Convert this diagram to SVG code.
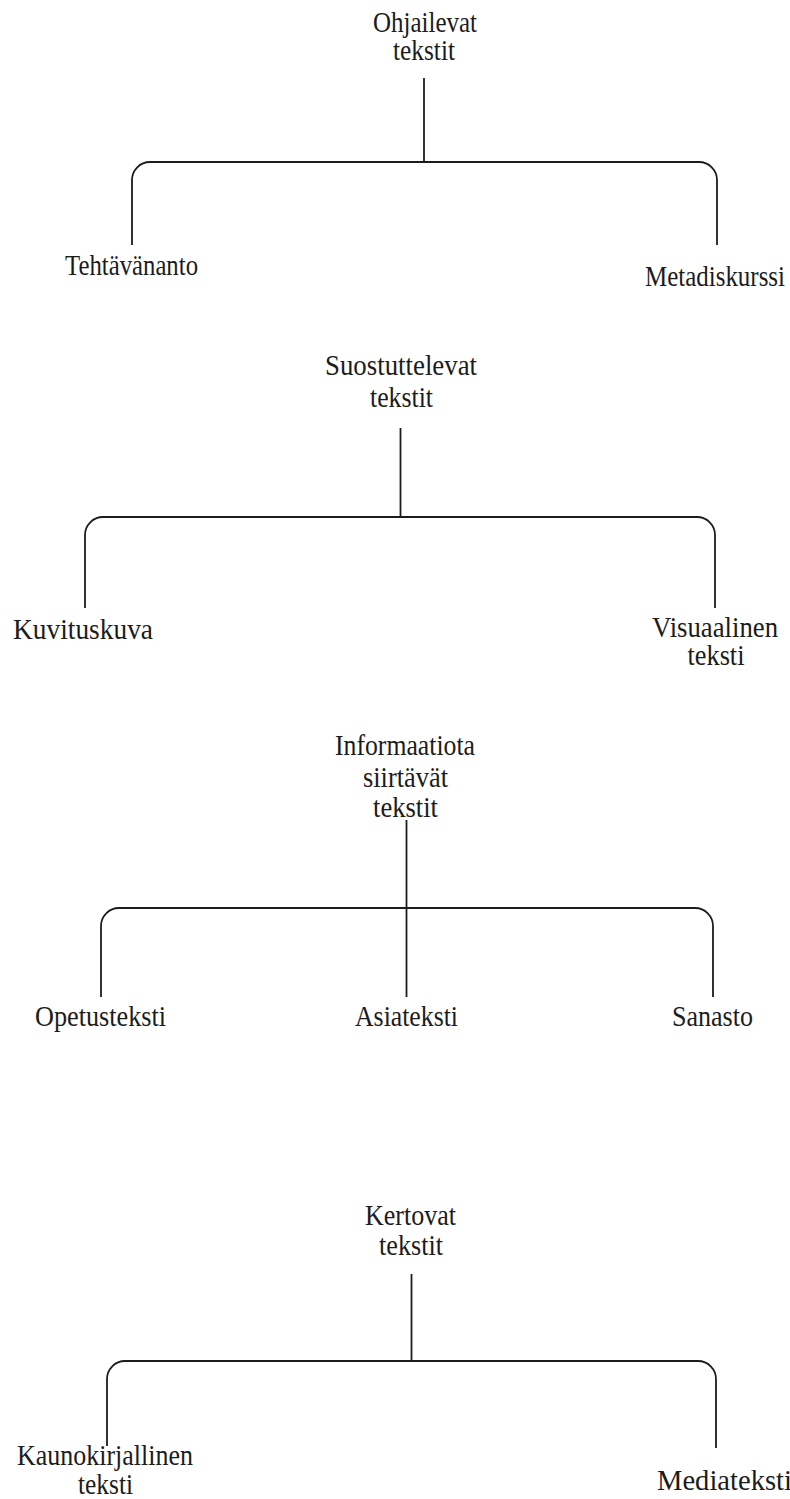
<svg xmlns="http://www.w3.org/2000/svg" width="790" height="1499" viewBox="0 0 790 1499">
<style>
.t{font-family:"Liberation Serif","Times New Roman",serif;font-size:26px;fill:#1c1c1c;text-anchor:middle}
.s{text-anchor:start}
.c{fill:none;stroke:#1c1c1c;stroke-width:1.8}
</style>
<rect width="790" height="1499" fill="#ffffff"/>
<g id="connectors">
<path class="c" d="M424 78 V162"/>
<path class="c" d="M132 245 V180 A18 18 0 0 1 150 162 H699 A18 18 0 0 1 717 180 V245"/>
<path class="c" d="M400.5 428 V517"/>
<path class="c" d="M85 608 V535 A18 18 0 0 1 103 517 H697 A18 18 0 0 1 715 535 V608"/>
<path class="c" d="M406.5 820 V997"/>
<path class="c" d="M101 997 V926 A18 18 0 0 1 119 908 H695 A18 18 0 0 1 713 926 V997"/>
<path class="c" d="M411.5 1274 V1361"/>
<path class="c" d="M107 1446 V1379 A18 18 0 0 1 125 1361 H698 A18 18 0 0 1 716 1379 V1448"/>
</g>
<g id="ohjailevat">
<text class="t" transform="translate(425 32) scale(1 1.1)"><tspan x="0" y="0" textLength="104" lengthAdjust="spacingAndGlyphs">Ohjailevat</tspan><tspan x="-1" y="25.45" textLength="62" lengthAdjust="spacingAndGlyphs">tekstit</tspan></text>
</g>
<g id="tehtavananto">
<text class="t" transform="translate(131.5 275) scale(1 1.1)" textLength="133" lengthAdjust="spacingAndGlyphs">Tehtävänanto</text>
</g>
<g id="metadiskurssi">
<text class="t" transform="translate(715 286) scale(1 1.1)" textLength="140" lengthAdjust="spacingAndGlyphs">Metadiskurssi</text>
</g>
<g id="suostuttelevat">
<text class="t" transform="translate(401 375) scale(1 1.1)"><tspan x="0" y="0" textLength="152" lengthAdjust="spacingAndGlyphs">Suostuttelevat</tspan><tspan x="0.5" y="29.1" textLength="63" lengthAdjust="spacingAndGlyphs">tekstit</tspan></text>
</g>
<g id="kuvituskuva">
<text class="t" transform="translate(83 639) scale(1 1.1)" textLength="140" lengthAdjust="spacingAndGlyphs">Kuvituskuva</text>
</g>
<g id="visuaalinen">
<text class="t" transform="translate(715 637) scale(1 1.1)"><tspan x="0" y="0" textLength="126" lengthAdjust="spacingAndGlyphs">Visuaalinen</tspan><tspan x="1" y="25.45" textLength="57" lengthAdjust="spacingAndGlyphs">teksti</tspan></text>
</g>
<g id="informaatiota">
<text class="t" transform="translate(405 755) scale(1 1.1)"><tspan x="0" y="0" textLength="140" lengthAdjust="spacingAndGlyphs">Informaatiota</tspan><tspan x="0.5" y="29.1" textLength="85" lengthAdjust="spacingAndGlyphs">siirtävät</tspan><tspan x="0.5" y="56.4" textLength="65" lengthAdjust="spacingAndGlyphs">tekstit</tspan></text>
</g>
<g id="opetusteksti">
<text class="t" transform="translate(100.5 1026) scale(1 1.1)" textLength="131" lengthAdjust="spacingAndGlyphs">Opetusteksti</text>
</g>
<g id="asiateksti">
<text class="t" transform="translate(406.5 1026) scale(1 1.1)" textLength="103" lengthAdjust="spacingAndGlyphs">Asiateksti</text>
</g>
<g id="sanasto">
<text class="t" transform="translate(712.5 1026) scale(1 1.1)" textLength="81" lengthAdjust="spacingAndGlyphs">Sanasto</text>
</g>
<g id="kertovat">
<text class="t" transform="translate(410.5 1225) scale(1 1.1)"><tspan x="0" y="0" textLength="91" lengthAdjust="spacingAndGlyphs">Kertovat</tspan><tspan x="0.5" y="27.3" textLength="64" lengthAdjust="spacingAndGlyphs">tekstit</tspan></text>
</g>
<g id="kaunokirjallinen">
<text class="t" transform="translate(105 1465) scale(1 1.1)"><tspan x="0" y="0" textLength="176" lengthAdjust="spacingAndGlyphs">Kaunokirjallinen</tspan><tspan x="0.5" y="26.4" textLength="55" lengthAdjust="spacingAndGlyphs">teksti</tspan></text>
</g>
<g id="mediateksti">
<text class="t s" transform="translate(657 1490) scale(1 1.1)" textLength="135" lengthAdjust="spacingAndGlyphs">Mediateksti</text>
</g>
</svg>
